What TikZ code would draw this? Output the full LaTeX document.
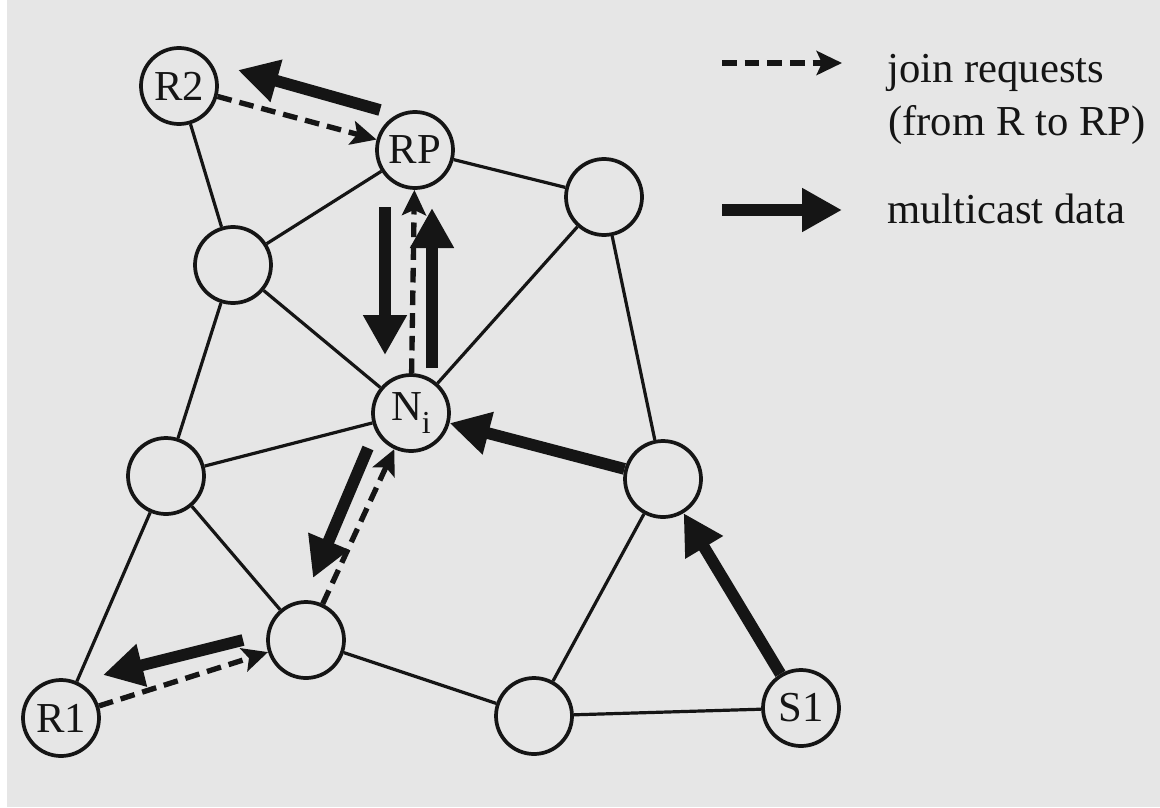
\documentclass[tikz,border=0pt]{standalone}
\usepackage{fontspec}
\setmainfont{Liberation Serif}
\usetikzlibrary{arrows.meta,calc}
\definecolor{paper}{HTML}{E6E6E6}
\definecolor{ink}{HTML}{151515}
\begin{document}
\begin{tikzpicture}[x=0.75pt,y=-0.75pt,
  netnode/.style={circle,draw=ink,line width=2.8pt,minimum size=57pt,inner sep=0pt,text=ink,font=\fontsize{32pt}{38pt}\selectfont},
  link/.style={draw=ink,line width=2.4pt},
  joinreq/.style={draw=ink,line width=4pt,dash pattern=on 11pt off 6pt,-{Stealth[length=19pt,width=18pt,inset=4pt]}},
  mdata/.style={draw=ink,line width=8.8pt,-{Triangle[length=30pt,width=31pt]}},
  legtext/.style={anchor=base west,inner sep=0pt,text=ink,font=\fontsize{32pt}{38pt}\selectfont}]
\fill[white] (0,0) rectangle (1160,807);
\fill[paper] (7,0) rectangle (1160,807);
\useasboundingbox (0,0) rectangle (1160,807);

\node[netnode] (R2) at (179,86) {R2};
\node[netnode] (RP) at (415,150) {RP};
\node[netnode] (TR) at (604,197) {};
\node[netnode] (LU) at (233,265) {};
\node[netnode] (Ni) at (411,413) {N\raisebox{-10pt}{\fontsize{24pt}{24pt}\selectfont i}};
\node[netnode] (LM) at (166,476) {};
\node[netnode] (RM) at (663,479) {};
\node[netnode] (LL) at (306,640) {};
\node[netnode] (R1) at (61,718) {R1};
\node[netnode] (BM) at (534,716) {};
\node[netnode] (S1) at (801,708) {S1};

\draw[link] (R2) -- (LU);
\draw[link] (RP) -- (LU);
\draw[link] (RP) -- (TR);
\draw[link] (LU) -- (LM);
\draw[link] (LU) -- (Ni);
\draw[link] (TR) -- (Ni);
\draw[link] (TR) -- (RM);
\draw[link] (LM) -- (Ni);
\draw[link] (LM) -- (R1);
\draw[link] (LM) -- (LL);
\draw[link] (RM) -- (BM);
\draw[link] (LL) -- (BM);
\draw[link] (BM) -- (S1);

\draw[mdata] ([shift={(-35,-40)}]RP.center) -- ([shift={(59,-16)}]R2.center);
\draw[mdata] ([shift={(-30,57)}]RP.center) -- ([shift={(-26,-58)}]Ni.center);
\draw[mdata] ([shift={(21,-45)}]Ni.center) -- ([shift={(17,58)}]RP.center);
\draw[mdata] ([shift={(-43,35)}]Ni.center) -- ([shift={(7,-62)}]LL.center);
\draw[mdata] (RM) -- (Ni);
\draw[mdata] (S1) -- (RM);
\draw[mdata] ([shift={(-63,0)}]LL.center) -- ([shift={(42,-43)}]R1.center);

\draw[joinreq] (R2) -- (RP);
\draw[joinreq] (Ni) -- (RP);
\draw[joinreq] (LL) -- (Ni);
\draw[joinreq] (R1) -- (LL);

\coordinate (jA) at (722,63);
\coordinate (jB) at (842,63);
\draw[joinreq] (jA) -- (jB);
\coordinate (mA) at (722,210);
\coordinate (mB) at (842,210);
\draw[mdata] (mA) -- (mB);
\node[legtext] (t1) at (887,82) {join requests};
\node[legtext] (t2) at (888,135) {(from R to RP)};
\node[legtext] (t3) at (887,223) {multicast data};
\end{tikzpicture}
\end{document}
